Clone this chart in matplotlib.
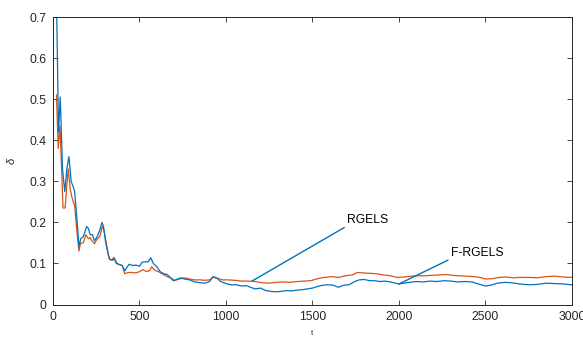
import matplotlib
matplotlib.use("Agg")
import matplotlib.pyplot as plt

plt.rcParams['font.family'] = ['Liberation Sans', 'DejaVu Sans']

t_blue = [20, 32, 42, 55, 68, 80, 92, 105, 118, 125, 140, 150, 160, 175, 195, 205, 215, 228, 240, 255, 270,
          283, 292, 305, 320, 330, 345, 355, 370, 385, 400, 415, 430, 440, 460, 480, 500, 515, 535, 550, 565,
          580, 600, 620, 640, 660, 680, 695, 720, 740, 760, 790, 820, 850, 880, 905, 925, 945, 970, 1000,
          1030, 1060, 1090, 1120, 1140, 1170, 1200, 1230, 1260, 1290, 1320, 1350, 1380, 1410, 1440, 1470,
          1500, 1530, 1560, 1590, 1620, 1650, 1680, 1710, 1740, 1770, 1800, 1830, 1860, 1890, 1920, 1950,
          1980, 2000, 2030, 2060, 2100, 2140, 2180, 2220, 2260, 2300, 2340, 2380, 2420, 2460, 2500, 2530,
          2570, 2610, 2650, 2700, 2750, 2800, 2850, 2900, 2950, 3000]
f_rgels = [0.75, 0.42, 0.505, 0.33, 0.275, 0.33, 0.36, 0.30, 0.285, 0.275, 0.20, 0.14, 0.16, 0.165, 0.19,
           0.185, 0.17, 0.17, 0.155, 0.165, 0.18, 0.20, 0.19, 0.15, 0.12, 0.11, 0.108, 0.112, 0.10, 0.097,
           0.095, 0.082, 0.092, 0.098, 0.095, 0.096, 0.093, 0.103, 0.104, 0.104, 0.114, 0.10, 0.092, 0.08,
           0.075, 0.073, 0.065, 0.058, 0.062, 0.065, 0.062, 0.06, 0.055, 0.053, 0.052, 0.056, 0.068, 0.065,
           0.056, 0.051, 0.048, 0.048, 0.045, 0.046, 0.042, 0.038, 0.04, 0.034, 0.032, 0.031, 0.032, 0.034,
           0.033, 0.035, 0.036, 0.038, 0.04, 0.044, 0.047, 0.048, 0.047, 0.042, 0.047, 0.048, 0.055, 0.06,
           0.061, 0.058, 0.058, 0.056, 0.057, 0.055, 0.052, 0.05, 0.052, 0.054, 0.056, 0.055, 0.057, 0.056,
           0.058, 0.057, 0.055, 0.056, 0.055, 0.05, 0.045, 0.047, 0.052, 0.054, 0.053, 0.05, 0.048, 0.049,
           0.052, 0.051, 0.05, 0.048]

t_orange = [20, 30, 40, 50, 58, 70, 80, 88, 100, 110, 125, 140, 150, 160, 175, 190, 205, 215, 225, 240, 255,
            270, 285, 295, 310, 325, 340, 352, 365, 385, 400, 415, 435, 460, 480, 500, 520, 540, 560, 570,
            590, 610, 630, 660, 690, 700, 730, 760, 790, 820, 850, 880, 905, 925, 950, 980, 1010, 1050, 1090,
            1130, 1170, 1210, 1250, 1290, 1330, 1370, 1410, 1450, 1490, 1530, 1570, 1610, 1650, 1690, 1730,
            1760, 1790, 1830, 1870, 1910, 1950, 1990, 2030, 2070, 2110, 2150, 2190, 2230, 2270, 2310, 2350,
            2390, 2430, 2470, 2500, 2540, 2580, 2620, 2660, 2700, 2750, 2800, 2850, 2900, 2950, 3000]
rgels = [0.51, 0.38, 0.435, 0.33, 0.235, 0.235, 0.29, 0.33, 0.28, 0.26, 0.24, 0.17, 0.13, 0.15, 0.15, 0.17,
         0.16, 0.163, 0.155, 0.148, 0.16, 0.165, 0.19, 0.18, 0.145, 0.11, 0.108, 0.115, 0.10, 0.097, 0.095,
         0.075, 0.078, 0.078, 0.077, 0.08, 0.085, 0.08, 0.083, 0.092, 0.083, 0.08, 0.075, 0.068, 0.063, 0.058,
         0.062, 0.065, 0.062, 0.06, 0.06, 0.059, 0.06, 0.066, 0.064, 0.06, 0.06, 0.059, 0.057, 0.057, 0.056,
         0.053, 0.052, 0.054, 0.055, 0.054, 0.056, 0.057, 0.058, 0.063, 0.066, 0.068, 0.066, 0.07, 0.072,
         0.078, 0.077, 0.076, 0.075, 0.072, 0.07, 0.066, 0.067, 0.069, 0.07, 0.07, 0.071, 0.072, 0.073,
         0.071, 0.07, 0.069, 0.068, 0.066, 0.062, 0.063, 0.066, 0.067, 0.065, 0.066, 0.066, 0.065, 0.068,
         0.069, 0.067, 0.066]

xticks = [0, 500, 1000, 1500, 2000, 2500, 3000]
yticks = [0, 0.1, 0.2, 0.3, 0.4, 0.5, 0.6, 0.7]

BLUE = '#0072BD'
ORANGE = '#D95319'
AX = '#262626'

fig = plt.figure(figsize=(5.83, 3.41), dpi=100)
ax = fig.add_axes([0.0909, 0.107, 0.8901, 0.843])
ax.plot(t_orange, rgels, color=ORANGE, lw=0.9)
ax.plot(t_blue, f_rgels, color=BLUE, lw=0.9)
ax.set_xlim(0, 3000)
ax.set_ylim(0, 0.7)
ax.set_xticks(xticks)
ax.set_xticklabels([str(v) for v in xticks])
ax.set_yticks(yticks)
ax.set_yticklabels(['0'] + ['%.1f' % v for v in yticks[1:]])
ax.tick_params(direction='in', top=True, right=True, length=3.5, width=0.6,
               labelsize=8.8, colors=AX)
ax.tick_params(axis='x', pad=5)
ax.tick_params(axis='y', pad=5)
for s in ax.spines.values():
    s.set_color(AX)
    s.set_linewidth(0.7)
ax.set_xlabel('t', fontsize=5.5, color=AX, labelpad=5)
ax.set_ylabel('δ', fontsize=8, color=AX, labelpad=9, style='italic')

ax.annotate('RGELS', xy=(1150, 0.057), xytext=(1700, 0.206), fontsize=8.7, color='black',
            ha='left', va='center',
            arrowprops=dict(arrowstyle='-', color=BLUE, lw=1.0, shrinkA=0, shrinkB=0,
                            relpos=(0, 0)))
ax.annotate('F-RGELS', xy=(2000, 0.050), xytext=(2300, 0.126), fontsize=8.7, color='black',
            ha='left', va='center',
            arrowprops=dict(arrowstyle='-', color=BLUE, lw=1.0, shrinkA=0, shrinkB=0,
                            relpos=(0, 0)))

fig.savefig('out.png', dpi=100)
